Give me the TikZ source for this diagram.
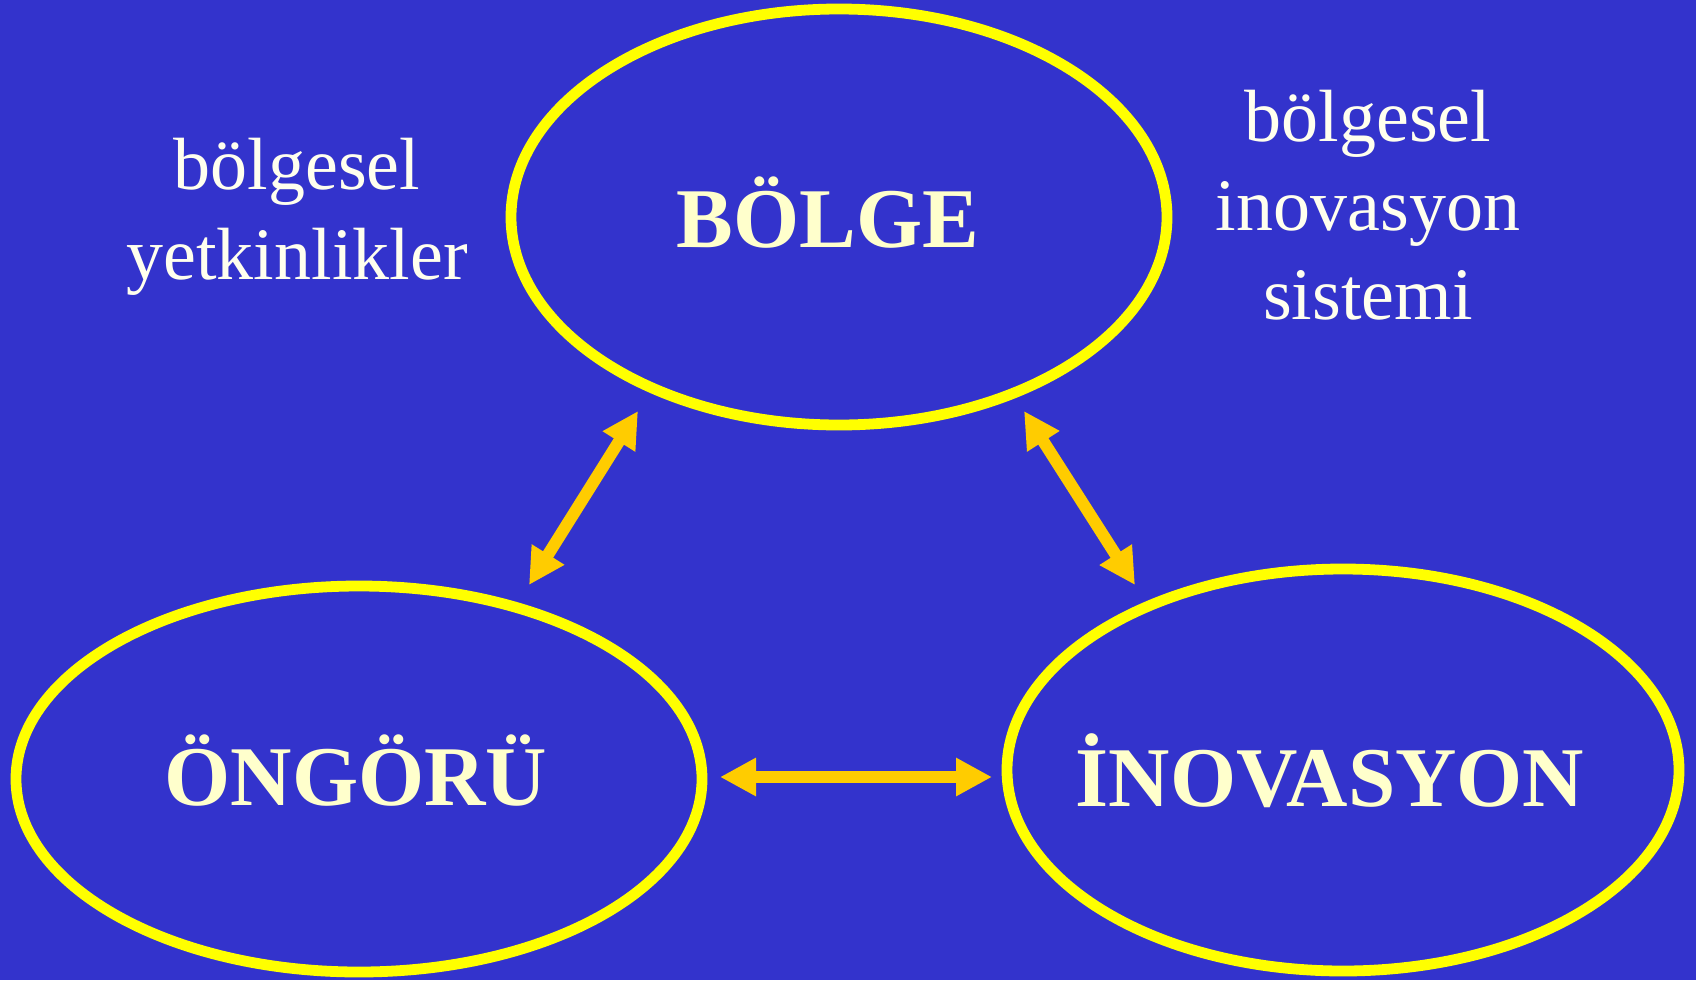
\documentclass[tikz,border=0pt]{standalone}
\usepackage{fontspec}
\setmainfont{Liberation Serif}
\usetikzlibrary{shapes.geometric,arrows.meta}
\definecolor{bgblue}{HTML}{3333CC}
\definecolor{ringyellow}{HTML}{FFFF00}
\definecolor{arrowgold}{HTML}{FFCC00}
\definecolor{titlecream}{HTML}{FFFFCC}
\definecolor{labelcream}{HTML}{FFFFEE}
\tikzset{
  ring/.style={ellipse, draw=ringyellow, line width=10.8pt, inner sep=0pt, outer sep=0pt},
  title/.style={anchor=base, text=titlecream, inner sep=0pt, font=\fontsize{85}{100}\selectfont\bfseries},
  sidelabel/.style={anchor=base, text=labelcream, inner sep=0pt, font=\fontsize{74}{89}\selectfont},
  link/.style={draw=arrowgold, line width=12pt, {Triangle[length=36pt,width=36pt]}-{Triangle[length=36pt,width=36pt]}}
}
\begin{document}
\begin{tikzpicture}[x=1pt,y=-1pt]
\fill[bgblue] (0,0) rectangle (1696,980);
\useasboundingbox (0,0) rectangle (1696,980);
% ellipses
\node[ring, minimum width=656pt, minimum height=416pt] (bolge) at (839,217) {};
\node[ring, minimum width=686pt, minimum height=386pt] (ongoru) at (359,779) {};
\node[ring, minimum width=672pt, minimum height=402pt] (inov) at (1343,770) {};
% titles
\node[title] (tb) at (828,247) {BÖLGE};
\node[title] (to) at (356,805) {ÖNGÖRÜ};
\node[title] (ti) at (1330,806) {İNOVASYON};
% side labels
\node[sidelabel] (l1) at (297,189) {bölgesel};
\node[sidelabel] (l2) at (297,279) {yetkinlikler};
\node[sidelabel] (r1) at (1368,141) {bölgesel};
\node[sidelabel] (r2) at (1368,230) {inovasyon};
\node[sidelabel] (r3) at (1368,319) {sistemi};
% arrow end points
\coordinate (bl) at (638,411);
\coordinate (ol) at (529,585);
\coordinate (br) at (1024,411);
\coordinate (ir) at (1135,585);
\coordinate (oh) at (720,777);
\coordinate (ih) at (992,777);
\draw[link] (ol) -- (bl);
\draw[link] (ir) -- (br);
\draw[link] (oh) -- (ih);
\end{tikzpicture}
\end{document}
